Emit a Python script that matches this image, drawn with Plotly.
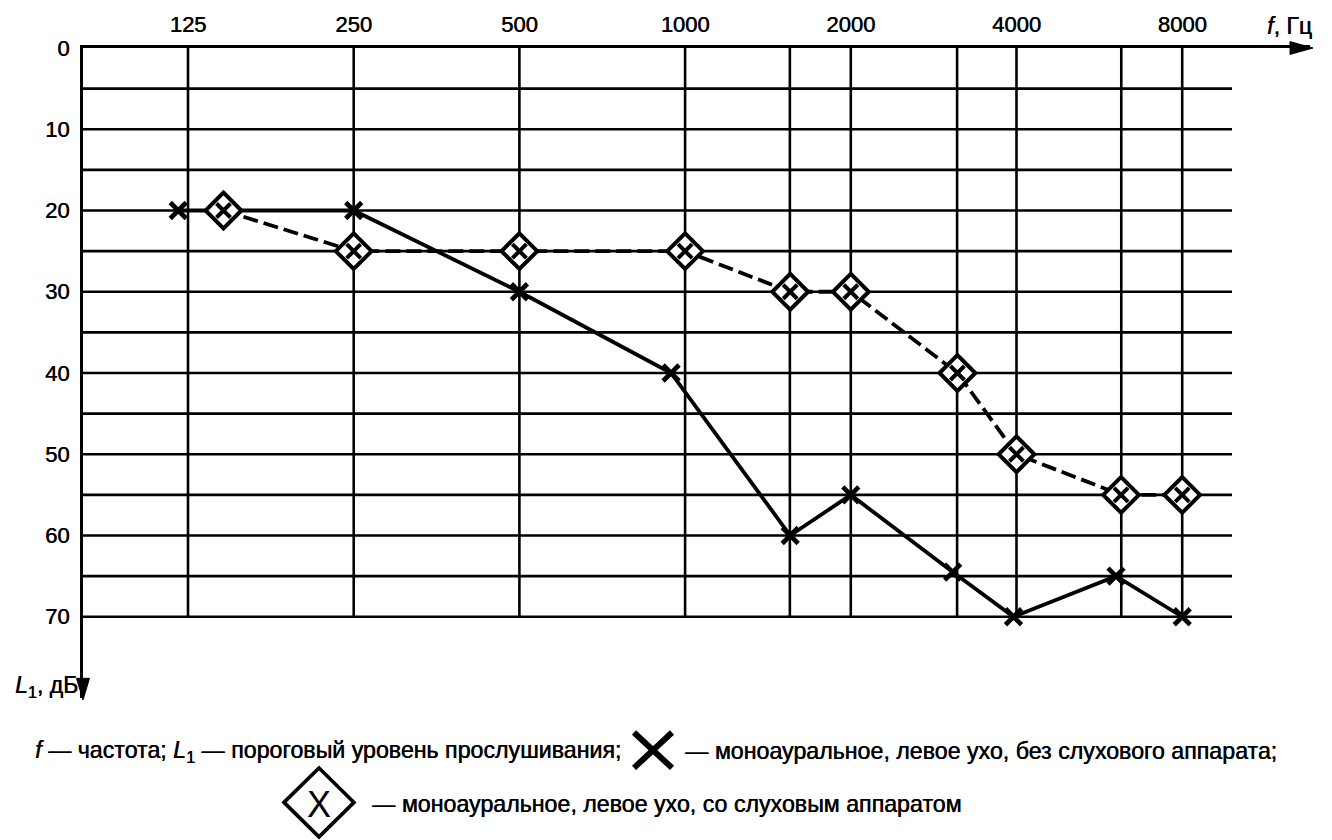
import math
import plotly.graph_objects as go

# ---------------- data ----------------
freq_ticks = [125, 250, 500, 1000, 2000, 4000, 8000]
freq_tick_text = ["125", "250", "500", "1000", "2000", "4000", "8000"]
freq_extra_grid = [1550, 3120, 6200]          # unlabeled intermediate frequency lines
level_ticks = [0, 10, 20, 30, 40, 50, 60, 70]
level_grid = [5, 10, 15, 20, 25, 30, 35, 40, 45, 50, 55, 60, 65, 70]

# monaural, left ear, without hearing aid (X, solid line)
f_without = [120, 250, 500, 943, 1552, 2000, 3063, 3950, 6065, 8000]
L_without = [20, 20, 30, 40, 60, 55, 64.5, 70, 65, 70]

# monaural, left ear, with hearing aid (diamond with X, dashed line)
f_with = [145, 250, 500, 1000, 1552, 2000, 3124, 4000, 6195, 8000]
L_with = [20, 25, 25, 25, 30, 30, 40, 50, 55, 55]

# ---------------- layout geometry ----------------
W, H = 1332, 840
PL, PR, PT, PB = 83, 1310, 38, 698         # plot area in pixels
OCT = 165.7                                  # pixels per octave
X125 = 188                                   # pixel of 125 Hz
log2_left = math.log2(125) - (X125 - PL) / OCT
log2_right = log2_left + (PR - PL) / OCT
x_range = [log2_left * math.log10(2), log2_right * math.log10(2)]
f_left = 2 ** log2_left
f_grid_end = 2 ** (math.log2(125) + (1232 - X125) / OCT)

def xp(px):
    return (px - PL) / (PR - PL)

def yp(py):
    return (PB - py) / (PB - PT)

FONT = "Liberation Sans, Arial, sans-serif"
SHADOW = "0.5px 0px 0px black"

def tfont(size):
    return dict(family=FONT, size=size, color="black", shadow=SHADOW)

fig = go.Figure()

# grid lines (horizontal)
gx, gy = [], []
for L in level_grid:
    gx += [f_left, f_grid_end, None]
    gy += [L, L, None]
fig.add_trace(go.Scatter(x=gx, y=gy, mode="lines", line=dict(color="black", width=2.6),
                         hoverinfo="skip", showlegend=False))
# grid lines (vertical)
vx, vy = [], []
for f in sorted(freq_ticks + freq_extra_grid):
    vx += [f, f, None]
    vy += [0, 70, None]
fig.add_trace(go.Scatter(x=vx, y=vy, mode="lines", line=dict(color="black", width=2.6),
                         hoverinfo="skip", showlegend=False))

# series without hearing aid
fig.add_trace(go.Scatter(x=f_without, y=L_without, mode="lines+markers",
                         line=dict(color="black", width=3.8),
                         marker=dict(symbol="x-thin", size=16, color="black",
                                     line=dict(color="black", width=4.6)),
                         showlegend=False))
# series with hearing aid: dashed line
fig.add_trace(go.Scatter(x=f_with, y=L_with, mode="lines",
                         line=dict(color="black", width=3.8, dash="15px,6px"),
                         showlegend=False))
# diamonds
fig.add_trace(go.Scatter(x=f_with, y=L_with, mode="markers",
                         marker=dict(symbol="diamond", size=27.5, color="white",
                                     line=dict(color="black", width=4)),
                         showlegend=False))
# inner X
fig.add_trace(go.Scatter(x=f_with, y=L_with, mode="markers",
                         marker=dict(symbol="x-thin", size=14, color="black",
                                     line=dict(color="black", width=4)),
                         showlegend=False))

shapes = []
# arrowheads
shapes.append(dict(type="path", xref="paper", yref="paper",
                   path=f"M {xp(1313)} {yp(38)} L {xp(1290)} {yp(31.5)} L {xp(1290)} {yp(44.5)} Z",
                   fillcolor="black", line=dict(color="black", width=1)))
shapes.append(dict(type="path", xref="paper", yref="paper",
                   path=f"M {xp(83)} {yp(700)} L {xp(76.5)} {yp(678)} L {xp(89.5)} {yp(678)} Z",
                   fillcolor="black", line=dict(color="black", width=1)))
# legend symbol: big X
shapes.append(dict(type="line", xref="paper", yref="paper",
                   x0=xp(634), y0=yp(733), x1=xp(672), y1=yp(769),
                   line=dict(color="black", width=6)))
shapes.append(dict(type="line", xref="paper", yref="paper",
                   x0=xp(634), y0=yp(769), x1=xp(672), y1=yp(733),
                   line=dict(color="black", width=6)))
# legend symbol: diamond
cx, cy, r = 319, 804, 35
shapes.append(dict(type="path", xref="paper", yref="paper",
                   path=f"M {xp(cx - r)} {yp(cy)} L {xp(cx)} {yp(cy - r)} L {xp(cx + r)} {yp(cy)} L {xp(cx)} {yp(cy + r)} Z",
                   fillcolor="white", line=dict(color="black", width=3.6)))

ann = []
LEG = 23.2
ann.append(dict(xref="paper", yref="paper", x=xp(623), y=yp(752), xanchor="right", yanchor="middle",
                text="<i>f</i> — частота; <i>L</i><sub>1</sub> — пороговый уровень прослушивания;",
                showarrow=False, font=tfont(LEG)))
ann.append(dict(xref="paper", yref="paper", x=xp(683), y=yp(752), xanchor="left", yanchor="middle",
                text="— моноауральное, левое ухо, без слухового аппарата;",
                showarrow=False, font=tfont(LEG)))
ann.append(dict(xref="paper", yref="paper", x=xp(370), y=yp(806), xanchor="left", yanchor="middle",
                text="— моноауральное, левое ухо, со слуховым аппаратом",
                showarrow=False, font=tfont(LEG)))
ann.append(dict(xref="paper", yref="paper", x=xp(319), y=yp(806), xanchor="center", yanchor="middle",
                text="X", showarrow=False, font=dict(family=FONT, size=36, color="black")))
# axis titles
ann.append(dict(xref="paper", yref="paper", x=xp(1314), y=yp(16), xanchor="right", yanchor="middle",
                text="<i>f</i>, Гц", showarrow=False, font=tfont(23)))
ann.append(dict(xref="paper", yref="paper", x=xp(80), y=yp(686), xanchor="right", yanchor="middle",
                text="<i>L</i><sub>1</sub>, дБ", showarrow=False, font=tfont(23)))

fig.update_layout(
    width=W, height=H,
    margin=dict(l=PL, r=W - PR, t=PT, b=H - PB, pad=0),
    paper_bgcolor="white", plot_bgcolor="white",
    shapes=shapes, annotations=ann,
    showlegend=False,
    xaxis=dict(type="log", range=x_range, side="top",
               tickmode="array", tickvals=freq_ticks, ticktext=freq_tick_text,
               ticks="", showgrid=False, zeroline=False,
               showline=True, linecolor="black", linewidth=3,
               tickfont=tfont(22),
               ticklabelstandoff=4, fixedrange=True),
    yaxis=dict(range=[80, 0], tickmode="array", tickvals=level_ticks,
               ticks="", showgrid=False, zeroline=False,
               showline=True, linecolor="black", linewidth=3,
               tickfont=tfont(22),
               ticklabelstandoff=6, fixedrange=True),
)

fig.write_html("out.html", config={"displayModeBar": False},
               post_script="document.body.style.margin='0';document.body.style.overflow='hidden';")
